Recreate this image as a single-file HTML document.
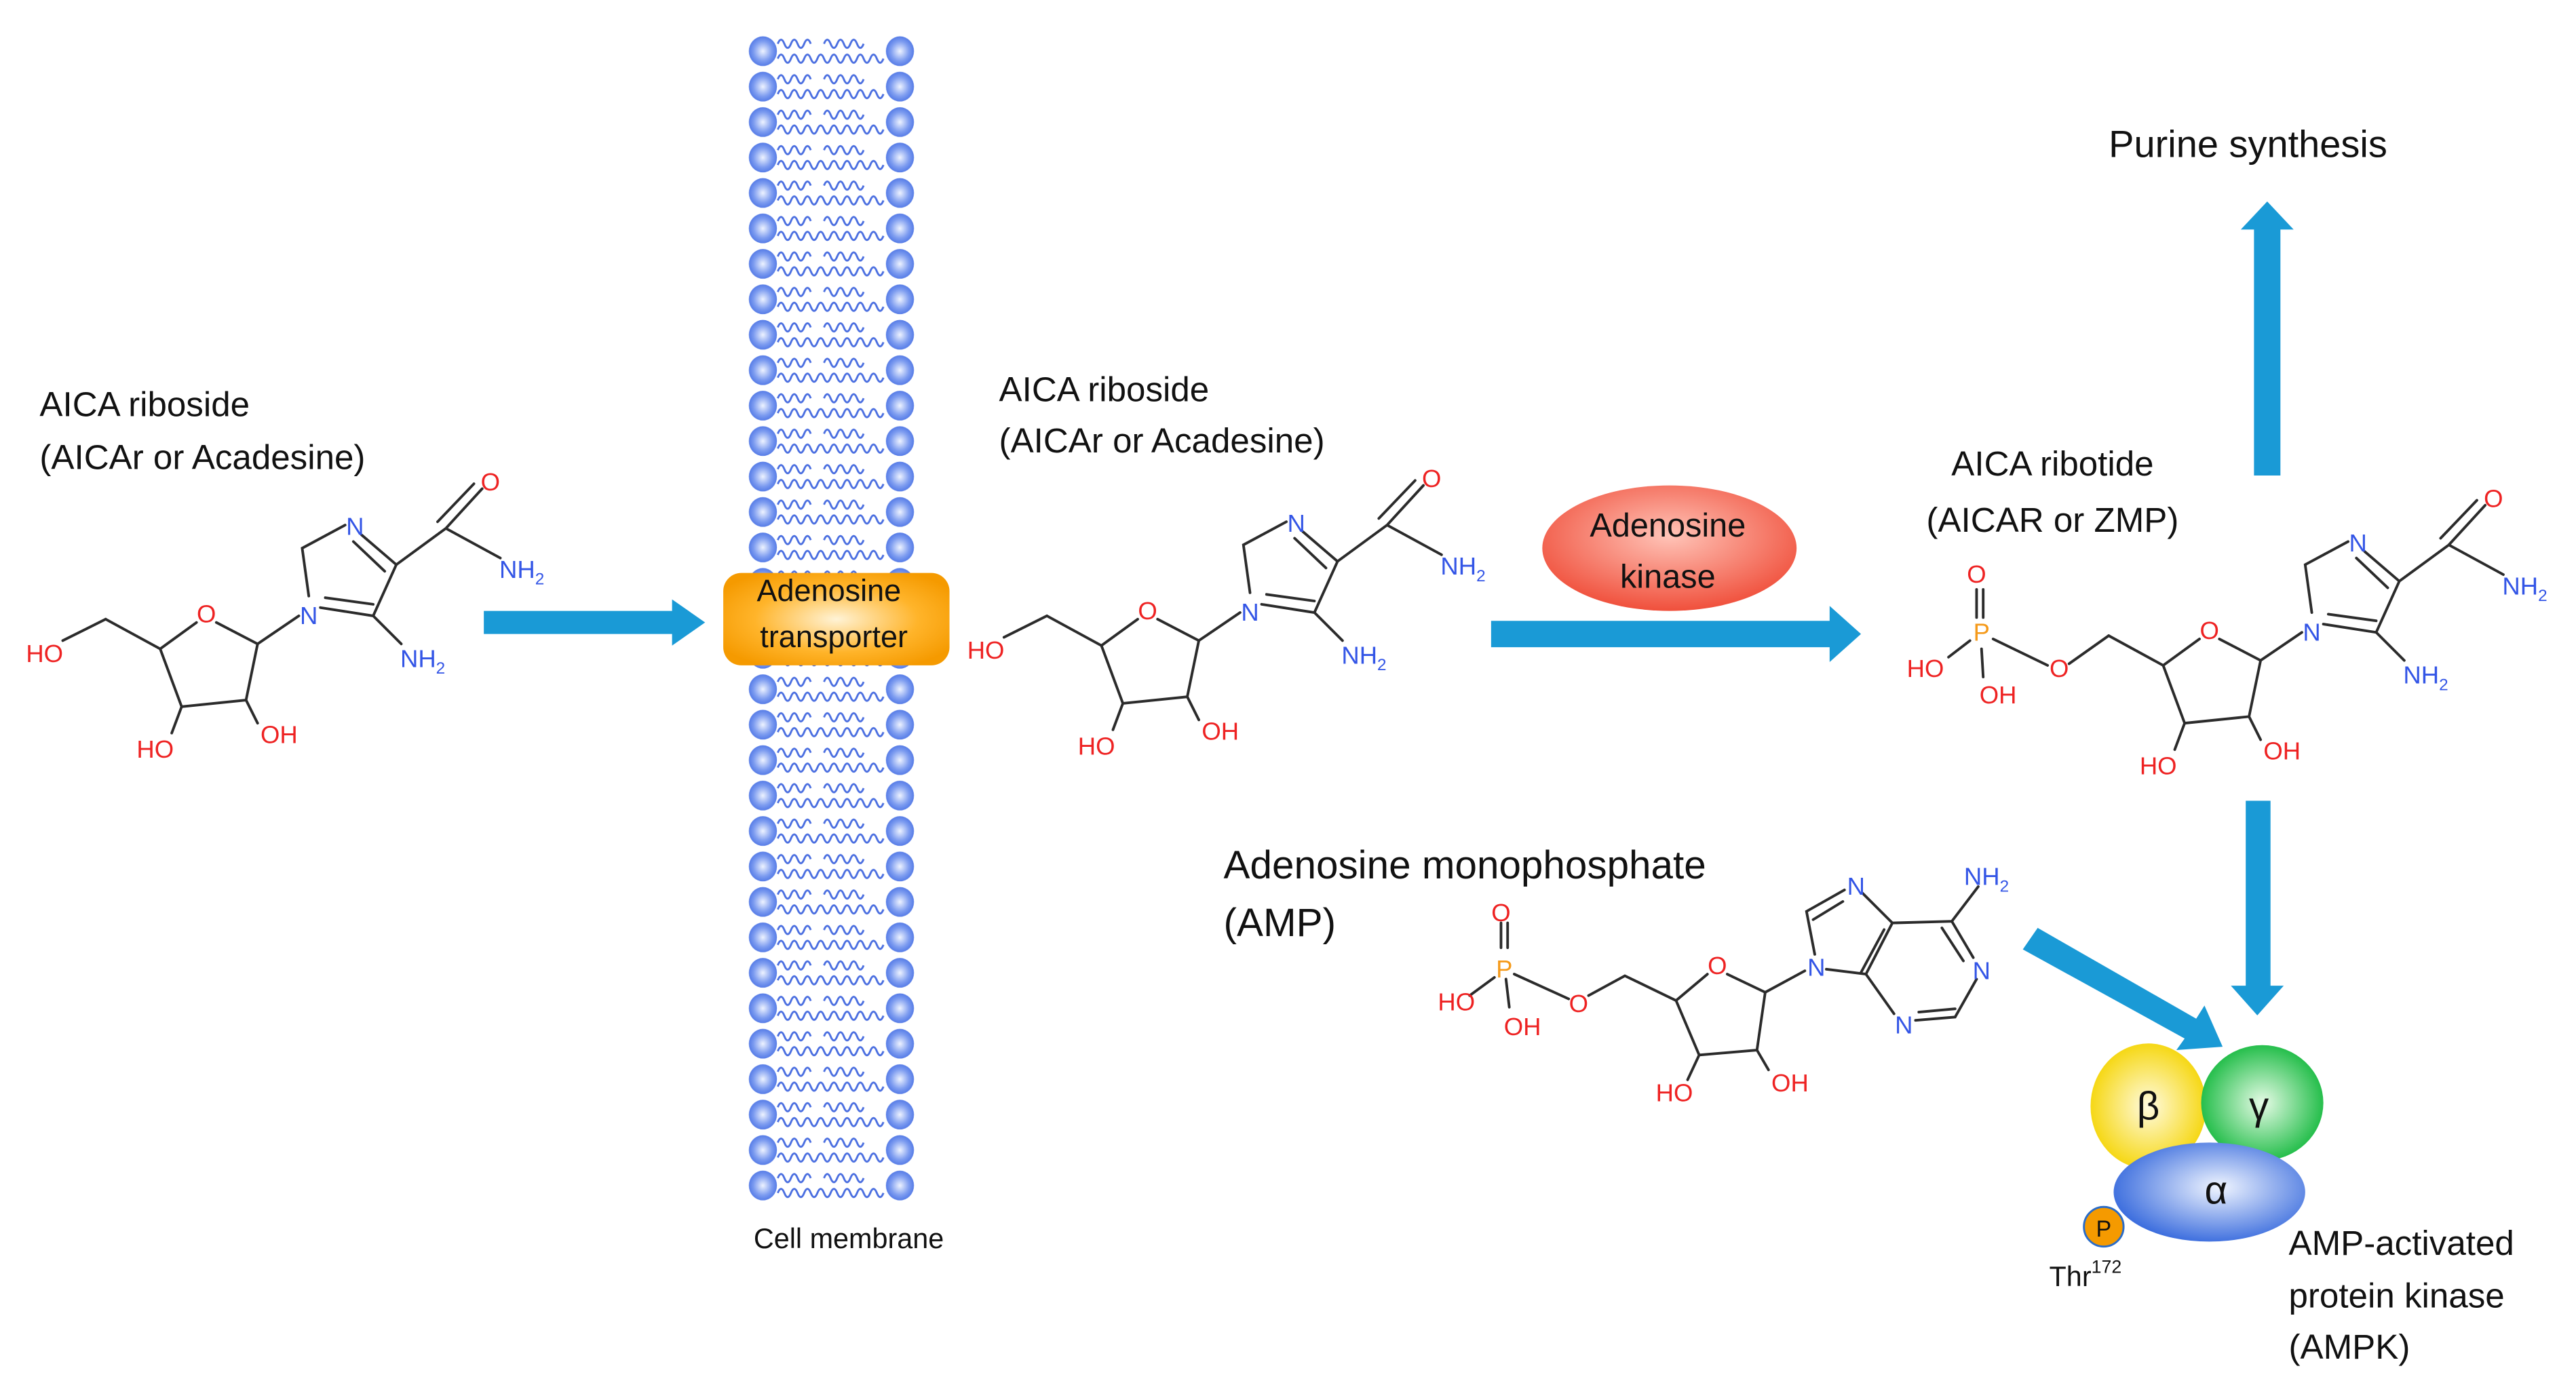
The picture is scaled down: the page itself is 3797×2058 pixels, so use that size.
<!DOCTYPE html>
<html><head><meta charset="utf-8"><style>
html,body{margin:0;padding:0;background:#fff}
svg{display:block}
text{font-family:"Liberation Sans",sans-serif}
.b{stroke:#2b2b2b;stroke-width:1.6;fill:none;stroke-linecap:round}
.r{fill:#ee2222;font-size:15px;text-anchor:middle}
.n{fill:#3355e6;font-size:15px;text-anchor:middle}
.p{fill:#f59a1a;font-size:15px;text-anchor:middle}
.t{fill:#111;font-size:21px}
</style></head><body>
<svg width="3797" height="2058" viewBox="0 0 1560 845.5" xmlns="http://www.w3.org/2000/svg">
<defs>
<radialGradient id="ball" cx="50%" cy="50%" r="55%"><stop offset="0" stop-color="#eef3ff"/><stop offset="0.6" stop-color="#7d9cf0"/><stop offset="1" stop-color="#4a72e4"/></radialGradient>
<pattern id="mem" x="452" y="20.5" width="104" height="21.47" patternUnits="userSpaceOnUse">
<ellipse cx="10" cy="10.5" rx="8.5" ry="9" fill="url(#ball)"/>
<ellipse cx="93" cy="10.5" rx="8.5" ry="9" fill="url(#ball)"/>
<path d="M19 6 q2 -5 4 0 t4 0 t4 0 t4 0 t4 0 M47 6 q2 -5 4 0 t4 0 t4 0 t4 0 t4 0 t4 0 M19 15 q2 -5 4 0 t4 0 t4 0 t4 0 t4 0 t4 0 t4 0 t4 0 t4 0 t4 0 t4 0 t4 0 t4 0 t4 0 t4 0 t4 0" stroke="#4a6ee0" stroke-width="1.2" fill="none"/>
</pattern>
<radialGradient id="org" cx="50%" cy="50%" r="60%"><stop offset="0" stop-color="#fff3d6"/><stop offset="0.6" stop-color="#ffb42a"/><stop offset="1" stop-color="#f59a00"/></radialGradient>
<radialGradient id="red" cx="50%" cy="40%" r="60%"><stop offset="0" stop-color="#ffc4b8"/><stop offset="1" stop-color="#f0503c"/></radialGradient>
<radialGradient id="yel" cx="50%" cy="50%" r="55%"><stop offset="0" stop-color="#fffbe0"/><stop offset="1" stop-color="#f5d400"/></radialGradient>
<radialGradient id="grn" cx="50%" cy="50%" r="55%"><stop offset="0" stop-color="#e6fbe6"/><stop offset="1" stop-color="#12b83c"/></radialGradient>
<radialGradient id="blu" cx="55%" cy="45%" r="60%"><stop offset="0" stop-color="#f0f5ff"/><stop offset="1" stop-color="#3266dc"/></radialGradient>
<g id="aica">
<path class="b" d="M64 375 L97 393 L119 377 M131 377 L156 390 L149 424 L110 428 L97 393 M110 428 L104 444 M149 424 L156 438 M156 390 L181 373 M187 361 L183 332 L209 318 M219 324 L240 342 M214 328 L233 346 M240 342 L226 373 L194 368 M226 366 L197 362 M226 373 L243 390 M240 342 L270 320 L303 338 M270 320 L292 296 M265 316 L287 293"/>
</g>
</defs>
<rect width="1560" height="845.5" fill="#fff"/>

<!-- membrane -->
<rect x="452" y="20.5" width="104" height="708.5" fill="url(#mem)"/>
<rect x="438" y="347" width="137" height="56" rx="11" fill="url(#org)"/>
<text x="502" y="364" font-size="18.5" text-anchor="middle" fill="#111">Adenosine</text>
<text x="505" y="392" font-size="18.5" text-anchor="middle" fill="#111">transporter</text>
<text x="514" y="756" font-size="17" text-anchor="middle" fill="#111">Cell membrane</text>

<!-- molecule 1 -->
<text class="t" x="24" y="252">AICA riboside</text>
<text class="t" x="24" y="284">(AICAr or Acadesine)</text>
<path class="b" d="M38 388 L64 375"/>
<use href="#aica"/>
<text class="r" x="27" y="401">HO</text><text class="r" x="125" y="377">O</text>
<text class="r" x="94" y="459">HO</text><text class="r" x="169" y="450">OH</text>
<text class="n" x="187" y="378">N</text><text class="n" x="215" y="324">N</text>
<text class="n" x="256" y="404">NH<tspan font-size="10" dy="4">2</tspan></text>
<text class="r" x="297" y="297">O</text>
<text class="n" x="316" y="350">NH<tspan font-size="10" dy="4">2</tspan></text>

<polygon points="293,370 407,370 407,363 427,377 407,391 407,384 293,384" fill="#1a9ad6"/>

<!-- molecule 2 -->
<text class="t" x="605" y="243">AICA riboside</text>
<text class="t" x="605" y="274">(AICAr or Acadesine)</text>
<g transform="translate(570,-2)">
<path class="b" d="M38 388 L64 375"/>
<use href="#aica"/>
<text class="r" x="27" y="401">HO</text><text class="r" x="125" y="377">O</text>
<text class="r" x="94" y="459">HO</text><text class="r" x="169" y="450">OH</text>
<text class="n" x="187" y="378">N</text><text class="n" x="215" y="324">N</text>
<text class="n" x="256" y="404">NH<tspan font-size="10" dy="4">2</tspan></text>
<text class="r" x="297" y="297">O</text>
<text class="n" x="316" y="350">NH<tspan font-size="10" dy="4">2</tspan></text>
</g>

<ellipse cx="1011" cy="332" rx="77" ry="38" fill="url(#red)"/>
<text x="1010" y="325" font-size="20" text-anchor="middle" fill="#111">Adenosine</text>
<text x="1010" y="356" font-size="20" text-anchor="middle" fill="#111">kinase</text>
<polygon points="903,376 1108,376 1108,367 1127,384 1108,401 1108,392 903,392" fill="#1a9ad6"/>

<!-- molecule 3 -->
<text class="t" x="1243" y="288" text-anchor="middle">AICA ribotide</text>
<text class="t" x="1243" y="322" text-anchor="middle">(AICAR or ZMP)</text>
<g transform="translate(1213,10)"><use href="#aica"/>
<text class="r" x="125" y="377">O</text>
<text class="r" x="94" y="459">HO</text><text class="r" x="169" y="450">OH</text>
<text class="n" x="187" y="378">N</text><text class="n" x="215" y="324">N</text>
<text class="n" x="256" y="404">NH<tspan font-size="10" dy="4">2</tspan></text>
<text class="r" x="297" y="297">O</text>
<text class="n" x="316" y="350">NH<tspan font-size="10" dy="4">2</tspan></text>
</g>
<path class="b" d="M1253 402 L1277 385 M1207 387 L1240 403 M1197 374 L1197 357 M1201 374 L1201 357 M1193 388 L1180 398 M1200 393 L1201 410"/>
<text class="r" x="1197" y="353">O</text><text class="p" x="1200" y="388">P</text>
<text class="r" x="1166" y="410">HO</text><text class="r" x="1210" y="426">OH</text><text class="r" x="1247" y="410">O</text>

<!-- purine synthesis -->
<text x="1277" y="95" font-size="23" fill="#111">Purine synthesis</text>
<polygon points="1365,288 1381,288 1381,139 1389,139 1373,122 1357,139 1365,139" fill="#1a9ad6"/>
<polygon points="1360,485 1375,485 1375,597 1383,597 1367,615 1351,597 1360,597" fill="#1a9ad6"/>
<polygon points="1225,575 1234,562 1330,617 1335,609 1346,634 1318,636 1323,629" fill="#1a9ad6"/>

<!-- AMP -->
<text x="741" y="532" font-size="24" fill="#111">Adenosine monophosphate</text>
<text x="741" y="567" font-size="24" fill="#111">(AMP)</text>
<path class="b" d="M909 574 L909 559 M913 574 L913 559 M905 592 L890 603 M912 593 L914 610 M917 590 L950 605 M962 603 L984 591 L1015 606 L1034 590 M1046 590 L1069 601 L1064 636 L1029 639 L1015 606 M1029 639 L1022 654 M1064 636 L1071 648 M1069 601 L1093 588 M1099 578 L1094 552 L1117 539 M1098 557 L1116 546 M1128 541 L1146 559 L1130 590 L1106 587 M1141 563 L1127 589 M1146 559 L1182 558 L1195 580 M1176 562 L1189 582 M1182 558 L1198 537 M1197 593 L1184 616 L1160 618 M1184 611 L1162 613 M1147 614 L1130 590"/>
<text class="r" x="909" y="558" font-size="14">O</text><text class="p" x="911" y="592">P</text>
<text class="r" x="882" y="612">HO</text><text class="r" x="922" y="627">OH</text><text class="r" x="956" y="613">O</text>
<text class="r" x="1040" y="590">O</text><text class="r" x="1014" y="667">HO</text><text class="r" x="1084" y="661">OH</text>
<text class="n" x="1100" y="591">N</text><text class="n" x="1124" y="542">N</text>
<text class="n" x="1203" y="536">NH<tspan font-size="10" dy="4">2</tspan></text>
<text class="n" x="1200" y="593">N</text><text class="n" x="1153" y="626">N</text>

<!-- AMPK -->
<ellipse cx="1301" cy="670" rx="35" ry="38" fill="url(#yel)"/>
<ellipse cx="1370" cy="668" rx="37" ry="35" fill="url(#grn)"/>
<ellipse cx="1338" cy="722" rx="58" ry="30" fill="url(#blu)"/>
<text x="1301" y="678" font-size="24" text-anchor="middle" fill="#111">β</text>
<text x="1368" y="678" font-size="24" text-anchor="middle" fill="#111">γ</text>
<text x="1342" y="729" font-size="24" text-anchor="middle" fill="#111">α</text>
<circle cx="1274" cy="743" r="12" fill="#f59a00" stroke="#2a6cc8" stroke-width="1.2"/>
<text x="1274" y="749" font-size="14" text-anchor="middle" fill="#111">P</text>
<text x="1241" y="779" font-size="17" fill="#111">Thr<tspan font-size="11" dy="-8">172</tspan></text>
<text class="t" x="1386" y="760">AMP-activated</text>
<text class="t" x="1386" y="792">protein kinase</text>
<text class="t" x="1386" y="823">(AMPK)</text>
</svg>
</body></html>
